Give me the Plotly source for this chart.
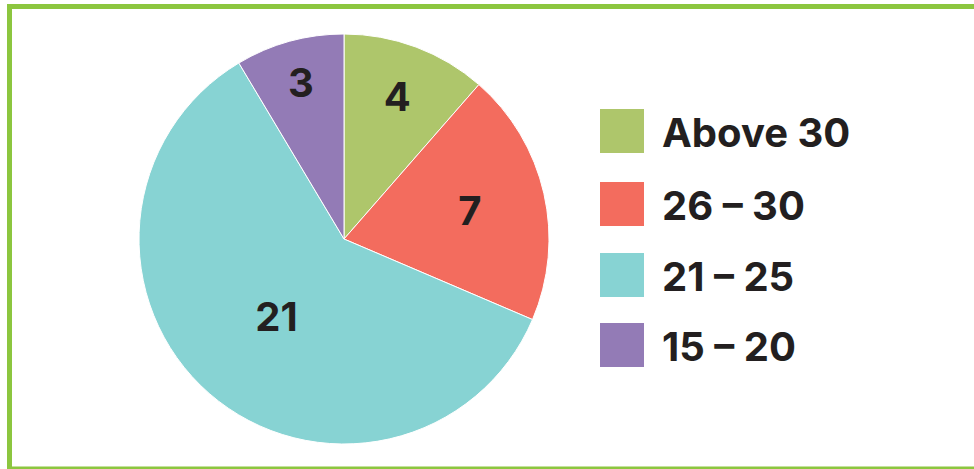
import plotly.graph_objects as go

labels = ["Above 30", "26 – 30", "21 – 25", "15 – 20"]
values = [4, 7, 21, 3]
colors = ["#aec66b", "#f36c5e", "#87d3d3", "#937bb6"]

W, H = 974, 469

def px(x):
    return x / W

def py(y):
    return 1 - y / H

cx, cy, r = 344, 239, 205
FONT = "Inter"
FS = 40

fig = go.Figure()
fig.add_trace(go.Pie(
    labels=labels,
    values=values,
    marker=dict(colors=colors, line=dict(color="white", width=1)),
    sort=False,
    direction="clockwise",
    rotation=0,
    textinfo="value",
    textposition="inside",
    insidetextorientation="horizontal",
    textfont=dict(family=FONT, size=FS, color="#231f20", weight="bold"),
    domain=dict(x=[px(cx - r), px(cx + r)], y=[py(cy + r), py(cy - r)]),
    showlegend=False,
    hoverinfo="label+value",
))

border = "#8cc63f"
shapes = [
    dict(type="line", xref="paper", yref="paper", x0=px(7), x1=px(980), y0=py(6.5), y1=py(6.5),
         line=dict(color=border, width=5)),
    dict(type="line", xref="paper", yref="paper", x0=px(9.5), x1=px(9.5), y0=py(4), y1=py(470),
         line=dict(color=border, width=5)),
    dict(type="line", xref="paper", yref="paper", x0=px(7), x1=px(980), y0=py(468), y1=py(468),
         line=dict(color=border, width=3)),
]
annotations = []
row_top = [109, 182, 253, 323]
size = 44
for lab, col, top in zip(labels, colors, row_top):
    shapes.append(dict(type="rect", xref="paper", yref="paper",
                       x0=px(600), x1=px(600 + size), y0=py(top + size), y1=py(top),
                       fillcolor=col, line=dict(width=0)))
    annotations.append(dict(xref="paper", yref="paper", x=px(660), y=py(top + size / 2 + 1),
                            xanchor="left", yanchor="middle", showarrow=False, text=lab,
                            font=dict(family=FONT, size=FS, color="#231f20", weight="bold")))

fig.update_layout(
    width=W, height=H,
    margin=dict(l=0, r=0, t=0, b=0),
    paper_bgcolor="white", plot_bgcolor="white",
    shapes=shapes, annotations=annotations,
)

fig.write_html("out.html", config={"displayModeBar": False},
               post_script="document.body.style.margin='0';document.body.style.overflow='hidden';")
